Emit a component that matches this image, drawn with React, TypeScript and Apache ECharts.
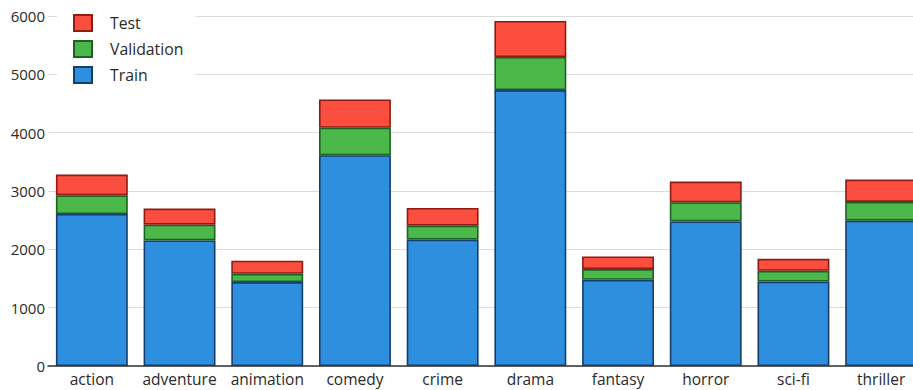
import React, { useEffect, useRef } from "react";
import * as echarts from "echarts";

// Movie genres and how many samples of each fall into each split
const genres = ["action", "adventure", "animation", "comedy", "crime", "drama", "fantasy", "horror", "sci-fi", "thriller"];
const trainCounts = [2606, 2153, 1438, 3613, 2165, 4730, 1478, 2479, 1448, 2491];
const validationCounts = [320, 270, 143, 471, 240, 567, 183, 327, 184, 322];
const testCounts = [356, 275, 223, 486, 305, 619, 217, 355, 206, 383];
const yTicks = [0, 1000, 2000, 3000, 4000, 5000, 6000];

const FONT = "'Open Sans', 'Noto Sans', sans-serif";

export default function App() {
  const ref = useRef<HTMLDivElement>(null);

  useEffect(() => {
    if (!ref.current) return;
    const chart = echarts.init(ref.current, undefined, { renderer: "svg" });

    const bar = (name: string, data: number[], fill: string, border: string) => ({
      name,
      type: "bar",
      stack: "split",
      data,
      barCategoryGap: "18%",
      itemStyle: { color: fill, borderColor: border, borderWidth: 1.6 },
      emphasis: { disabled: true },
    });

    chart.setOption({
      animation: false,
      backgroundColor: "#ffffff",
      textStyle: { fontFamily: FONT },
      grid: { left: 48, right: 0, top: 16, bottom: 24, containLabel: false },
      legend: {
        orient: "vertical",
        left: 57,
        top: 0,
        padding: [14, 12, 10, 16],
        backgroundColor: "#ffffff",
        data: ["Test", "Validation", "Train"],
        icon: "rect",
        itemWidth: 18,
        itemHeight: 16,
        itemGap: 8,
        textStyle: {
          fontFamily: FONT,
          fontSize: 15.8,
          lineHeight: 17.5,
          color: "#2a2a2a",
          padding: [0, 0, 0, 13],
        },
      },
      xAxis: {
        type: "category",
        data: genres,
        axisLine: { show: true, lineStyle: { color: "#333", width: 1.5 } },
        axisTick: { show: false },
        axisLabel: { fontFamily: FONT, fontSize: 15.5, color: "#2a2a2a", margin: 5, interval: 0 },
      },
      yAxis: {
        type: "value",
        min: yTicks[0],
        max: yTicks[yTicks.length - 1],
        interval: 1000,
        axisLine: { show: false },
        axisTick: { show: false },
        axisLabel: {
          fontFamily: FONT,
          fontSize: 15,
          color: "#2a2a2a",
          margin: 3,
          formatter: (v: number) => String(v),
        },
        splitLine: { show: true, lineStyle: { color: "#dcdcdc", width: 1 } },
      },
      series: [
        bar("Train", trainCounts, "#2d8fdd", "#163d6e"),
        bar("Validation", validationCounts, "#4bb849", "#1d6126"),
        bar("Test", testCounts, "#fc4e3f", "#8c1c14"),
      ],
    });

    return () => chart.dispose();
  }, []);

  // The plot runs a little past the right edge of the visible frame
  return (
    <div style={{ position: "absolute", left: 0, top: 0, width: 913, height: 390, overflow: "hidden" }}>
      <div ref={ref} style={{ width: 925, height: 390 }} />
    </div>
  );
}
